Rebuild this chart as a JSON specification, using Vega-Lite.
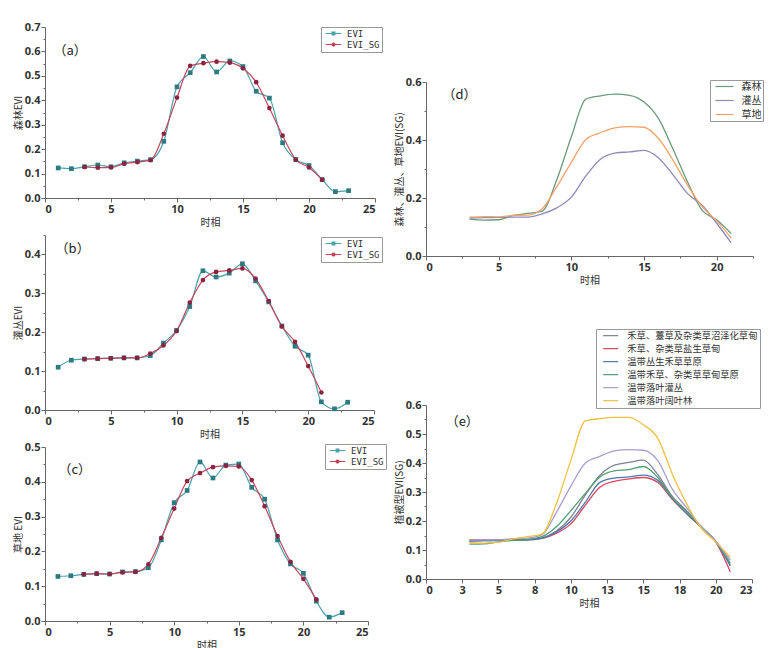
{
  "$schema": "https://vega.github.io/schema/vega-lite/v6.json",
  "padding": {"left": 13, "top": 21, "right": 2, "bottom": 2},
  "background": "white",
  "config": {
    "view": {"stroke": null},
    "font": "Noto Sans CJK SC",
    "axis": {"domainColor": "#666", "tickColor": "#666", "labelColor": "#333", "labelFont": "Open Sans", "labelFontWeight": "bold", "labelFontSize": 11, "titleFont": "Noto Sans CJK SC", "titleFontSize": 10, "titleFontWeight": "normal", "titleColor": "#333", "grid": false, "labelPadding": 1, "titlePadding": 3, "labelOverlap": false},
    "axisY": {"titlePadding": 1},
    "legend": {"titleFontSize": 0}
  },
  "datasets": {
    "a": [
      {"t":1,"v":0.123,"s":"EVI"},{"t":2,"v":0.12,"s":"EVI"},{"t":3,"v":0.128,"s":"EVI"},{"t":4,"v":0.135,"s":"EVI"},{"t":5,"v":0.128,"s":"EVI"},{"t":6,"v":0.144,"s":"EVI"},{"t":7,"v":0.151,"s":"EVI"},{"t":8,"v":0.157,"s":"EVI"},{"t":9,"v":0.232,"s":"EVI"},{"t":10,"v":0.455,"s":"EVI"},{"t":11,"v":0.513,"s":"EVI"},{"t":12,"v":0.579,"s":"EVI"},{"t":13,"v":0.516,"s":"EVI"},{"t":14,"v":0.561,"s":"EVI"},{"t":15,"v":0.538,"s":"EVI"},{"t":16,"v":0.437,"s":"EVI"},{"t":17,"v":0.409,"s":"EVI"},{"t":18,"v":0.226,"s":"EVI"},{"t":19,"v":0.157,"s":"EVI"},{"t":20,"v":0.133,"s":"EVI"},{"t":21,"v":0.075,"s":"EVI"},{"t":22,"v":0.026,"s":"EVI"},{"t":23,"v":0.03,"s":"EVI"},
      {"t":3,"v":0.127,"s":"EVI_SG"},{"t":4,"v":0.124,"s":"EVI_SG"},{"t":5,"v":0.125,"s":"EVI_SG"},{"t":6,"v":0.14,"s":"EVI_SG"},{"t":7,"v":0.147,"s":"EVI_SG"},{"t":8,"v":0.155,"s":"EVI_SG"},{"t":9,"v":0.263,"s":"EVI_SG"},{"t":10,"v":0.411,"s":"EVI_SG"},{"t":11,"v":0.541,"s":"EVI_SG"},{"t":12,"v":0.552,"s":"EVI_SG"},{"t":13,"v":0.558,"s":"EVI_SG"},{"t":14,"v":0.554,"s":"EVI_SG"},{"t":15,"v":0.531,"s":"EVI_SG"},{"t":16,"v":0.474,"s":"EVI_SG"},{"t":17,"v":0.368,"s":"EVI_SG"},{"t":18,"v":0.255,"s":"EVI_SG"},{"t":19,"v":0.157,"s":"EVI_SG"},{"t":20,"v":0.125,"s":"EVI_SG"},{"t":21,"v":0.075,"s":"EVI_SG"}
    ],
    "b": [
      {"t":1,"v":0.110,"s":"EVI"},{"t":2,"v":0.128,"s":"EVI"},{"t":3,"v":0.131,"s":"EVI"},{"t":4,"v":0.132,"s":"EVI"},{"t":5,"v":0.133,"s":"EVI"},{"t":6,"v":0.134,"s":"EVI"},{"t":7,"v":0.134,"s":"EVI"},{"t":8,"v":0.140,"s":"EVI"},{"t":9,"v":0.172,"s":"EVI"},{"t":10,"v":0.205,"s":"EVI"},{"t":11,"v":0.266,"s":"EVI"},{"t":12,"v":0.358,"s":"EVI"},{"t":13,"v":0.342,"s":"EVI"},{"t":14,"v":0.352,"s":"EVI"},{"t":15,"v":0.376,"s":"EVI"},{"t":16,"v":0.332,"s":"EVI"},{"t":17,"v":0.278,"s":"EVI"},{"t":18,"v":0.216,"s":"EVI"},{"t":19,"v":0.164,"s":"EVI"},{"t":20,"v":0.141,"s":"EVI"},{"t":21,"v":0.021,"s":"EVI"},{"t":22,"v":0.003,"s":"EVI"},{"t":23,"v":0.02,"s":"EVI"},
      {"t":3,"v":0.131,"s":"EVI_SG"},{"t":4,"v":0.132,"s":"EVI_SG"},{"t":5,"v":0.133,"s":"EVI_SG"},{"t":6,"v":0.134,"s":"EVI_SG"},{"t":7,"v":0.134,"s":"EVI_SG"},{"t":8,"v":0.145,"s":"EVI_SG"},{"t":9,"v":0.166,"s":"EVI_SG"},{"t":10,"v":0.203,"s":"EVI_SG"},{"t":11,"v":0.276,"s":"EVI_SG"},{"t":12,"v":0.334,"s":"EVI_SG"},{"t":13,"v":0.355,"s":"EVI_SG"},{"t":14,"v":0.359,"s":"EVI_SG"},{"t":15,"v":0.364,"s":"EVI_SG"},{"t":16,"v":0.338,"s":"EVI_SG"},{"t":17,"v":0.280,"s":"EVI_SG"},{"t":18,"v":0.215,"s":"EVI_SG"},{"t":19,"v":0.175,"s":"EVI_SG"},{"t":20,"v":0.113,"s":"EVI_SG"},{"t":21,"v":0.045,"s":"EVI_SG"}
    ],
    "c": [
      {"t":1,"v":0.128,"s":"EVI"},{"t":2,"v":0.130,"s":"EVI"},{"t":3,"v":0.134,"s":"EVI"},{"t":4,"v":0.136,"s":"EVI"},{"t":5,"v":0.135,"s":"EVI"},{"t":6,"v":0.141,"s":"EVI"},{"t":7,"v":0.142,"s":"EVI"},{"t":8,"v":0.153,"s":"EVI"},{"t":9,"v":0.233,"s":"EVI"},{"t":10,"v":0.340,"s":"EVI"},{"t":11,"v":0.375,"s":"EVI"},{"t":12,"v":0.457,"s":"EVI"},{"t":13,"v":0.411,"s":"EVI"},{"t":14,"v":0.448,"s":"EVI"},{"t":15,"v":0.451,"s":"EVI"},{"t":16,"v":0.384,"s":"EVI"},{"t":17,"v":0.350,"s":"EVI"},{"t":18,"v":0.233,"s":"EVI"},{"t":19,"v":0.164,"s":"EVI"},{"t":20,"v":0.137,"s":"EVI"},{"t":21,"v":0.057,"s":"EVI"},{"t":22,"v":0.011,"s":"EVI"},{"t":23,"v":0.024,"s":"EVI"},
      {"t":3,"v":0.134,"s":"EVI_SG"},{"t":4,"v":0.136,"s":"EVI_SG"},{"t":5,"v":0.135,"s":"EVI_SG"},{"t":6,"v":0.140,"s":"EVI_SG"},{"t":7,"v":0.141,"s":"EVI_SG"},{"t":8,"v":0.163,"s":"EVI_SG"},{"t":9,"v":0.239,"s":"EVI_SG"},{"t":10,"v":0.323,"s":"EVI_SG"},{"t":11,"v":0.402,"s":"EVI_SG"},{"t":12,"v":0.425,"s":"EVI_SG"},{"t":13,"v":0.442,"s":"EVI_SG"},{"t":14,"v":0.446,"s":"EVI_SG"},{"t":15,"v":0.444,"s":"EVI_SG"},{"t":16,"v":0.405,"s":"EVI_SG"},{"t":17,"v":0.330,"s":"EVI_SG"},{"t":18,"v":0.244,"s":"EVI_SG"},{"t":19,"v":0.170,"s":"EVI_SG"},{"t":20,"v":0.121,"s":"EVI_SG"},{"t":21,"v":0.062,"s":"EVI_SG"}
    ],
    "d": [
      {"t":3,"v":0.127,"s":"森林"},{"t":4,"v":0.124,"s":"森林"},{"t":5,"v":0.125,"s":"森林"},{"t":6,"v":0.14,"s":"森林"},{"t":7,"v":0.147,"s":"森林"},{"t":8,"v":0.155,"s":"森林"},{"t":9,"v":0.263,"s":"森林"},{"t":10,"v":0.411,"s":"森林"},{"t":11,"v":0.541,"s":"森林"},{"t":12,"v":0.552,"s":"森林"},{"t":13,"v":0.558,"s":"森林"},{"t":14,"v":0.554,"s":"森林"},{"t":15,"v":0.531,"s":"森林"},{"t":16,"v":0.474,"s":"森林"},{"t":17,"v":0.368,"s":"森林"},{"t":18,"v":0.255,"s":"森林"},{"t":19,"v":0.157,"s":"森林"},{"t":20,"v":0.125,"s":"森林"},{"t":21,"v":0.077,"s":"森林"},
      {"t":3,"v":0.131,"s":"灌丛"},{"t":4,"v":0.132,"s":"灌丛"},{"t":5,"v":0.133,"s":"灌丛"},{"t":6,"v":0.134,"s":"灌丛"},{"t":7,"v":0.134,"s":"灌丛"},{"t":8,"v":0.145,"s":"灌丛"},{"t":9,"v":0.166,"s":"灌丛"},{"t":10,"v":0.203,"s":"灌丛"},{"t":11,"v":0.276,"s":"灌丛"},{"t":12,"v":0.334,"s":"灌丛"},{"t":13,"v":0.355,"s":"灌丛"},{"t":14,"v":0.359,"s":"灌丛"},{"t":15,"v":0.364,"s":"灌丛"},{"t":16,"v":0.338,"s":"灌丛"},{"t":17,"v":0.280,"s":"灌丛"},{"t":18,"v":0.215,"s":"灌丛"},{"t":19,"v":0.175,"s":"灌丛"},{"t":20,"v":0.113,"s":"灌丛"},{"t":21,"v":0.045,"s":"灌丛"},
      {"t":3,"v":0.134,"s":"草地"},{"t":4,"v":0.136,"s":"草地"},{"t":5,"v":0.135,"s":"草地"},{"t":6,"v":0.140,"s":"草地"},{"t":7,"v":0.141,"s":"草地"},{"t":8,"v":0.163,"s":"草地"},{"t":9,"v":0.239,"s":"草地"},{"t":10,"v":0.323,"s":"草地"},{"t":11,"v":0.402,"s":"草地"},{"t":12,"v":0.425,"s":"草地"},{"t":13,"v":0.442,"s":"草地"},{"t":14,"v":0.446,"s":"草地"},{"t":15,"v":0.444,"s":"草地"},{"t":16,"v":0.405,"s":"草地"},{"t":17,"v":0.330,"s":"草地"},{"t":18,"v":0.244,"s":"草地"},{"t":19,"v":0.170,"s":"草地"},{"t":20,"v":0.121,"s":"草地"},{"t":21,"v":0.062,"s":"草地"}
    ],
    "e": [
      {"t":3,"v":0.131,"s":"禾草、薹草及杂类草沼泽化草甸"},{"t":4,"v":0.132,"s":"禾草、薹草及杂类草沼泽化草甸"},{"t":5,"v":0.133,"s":"禾草、薹草及杂类草沼泽化草甸"},{"t":6,"v":0.134,"s":"禾草、薹草及杂类草沼泽化草甸"},{"t":7,"v":0.136,"s":"禾草、薹草及杂类草沼泽化草甸"},{"t":8,"v":0.142,"s":"禾草、薹草及杂类草沼泽化草甸"},{"t":9,"v":0.165,"s":"禾草、薹草及杂类草沼泽化草甸"},{"t":10,"v":0.213,"s":"禾草、薹草及杂类草沼泽化草甸"},{"t":11,"v":0.29,"s":"禾草、薹草及杂类草沼泽化草甸"},{"t":12,"v":0.358,"s":"禾草、薹草及杂类草沼泽化草甸"},{"t":13,"v":0.393,"s":"禾草、薹草及杂类草沼泽化草甸"},{"t":14,"v":0.402,"s":"禾草、薹草及杂类草沼泽化草甸"},{"t":15,"v":0.41,"s":"禾草、薹草及杂类草沼泽化草甸"},{"t":16,"v":0.36,"s":"禾草、薹草及杂类草沼泽化草甸"},{"t":17,"v":0.285,"s":"禾草、薹草及杂类草沼泽化草甸"},{"t":18,"v":0.235,"s":"禾草、薹草及杂类草沼泽化草甸"},{"t":19,"v":0.18,"s":"禾草、薹草及杂类草沼泽化草甸"},{"t":20,"v":0.13,"s":"禾草、薹草及杂类草沼泽化草甸"},{"t":21,"v":0.05,"s":"禾草、薹草及杂类草沼泽化草甸"},
      {"t":3,"v":0.135,"s":"禾草、杂类草盐生草甸"},{"t":4,"v":0.135,"s":"禾草、杂类草盐生草甸"},{"t":5,"v":0.135,"s":"禾草、杂类草盐生草甸"},{"t":6,"v":0.135,"s":"禾草、杂类草盐生草甸"},{"t":7,"v":0.136,"s":"禾草、杂类草盐生草甸"},{"t":8,"v":0.14,"s":"禾草、杂类草盐生草甸"},{"t":9,"v":0.158,"s":"禾草、杂类草盐生草甸"},{"t":10,"v":0.19,"s":"禾草、杂类草盐生草甸"},{"t":11,"v":0.255,"s":"禾草、杂类草盐生草甸"},{"t":12,"v":0.316,"s":"禾草、杂类草盐生草甸"},{"t":13,"v":0.337,"s":"禾草、杂类草盐生草甸"},{"t":14,"v":0.345,"s":"禾草、杂类草盐生草甸"},{"t":15,"v":0.35,"s":"禾草、杂类草盐生草甸"},{"t":16,"v":0.333,"s":"禾草、杂类草盐生草甸"},{"t":17,"v":0.275,"s":"禾草、杂类草盐生草甸"},{"t":18,"v":0.225,"s":"禾草、杂类草盐生草甸"},{"t":19,"v":0.178,"s":"禾草、杂类草盐生草甸"},{"t":20,"v":0.128,"s":"禾草、杂类草盐生草甸"},{"t":21,"v":0.025,"s":"禾草、杂类草盐生草甸"},
      {"t":3,"v":0.131,"s":"温带丛生禾草草原"},{"t":4,"v":0.132,"s":"温带丛生禾草草原"},{"t":5,"v":0.133,"s":"温带丛生禾草草原"},{"t":6,"v":0.134,"s":"温带丛生禾草草原"},{"t":7,"v":0.134,"s":"温带丛生禾草草原"},{"t":8,"v":0.14,"s":"温带丛生禾草草原"},{"t":9,"v":0.162,"s":"温带丛生禾草草原"},{"t":10,"v":0.2,"s":"温带丛生禾草草原"},{"t":11,"v":0.265,"s":"温带丛生禾草草原"},{"t":12,"v":0.333,"s":"温带丛生禾草草原"},{"t":13,"v":0.348,"s":"温带丛生禾草草原"},{"t":14,"v":0.352,"s":"温带丛生禾草草原"},{"t":15,"v":0.358,"s":"温带丛生禾草草原"},{"t":16,"v":0.34,"s":"温带丛生禾草草原"},{"t":17,"v":0.278,"s":"温带丛生禾草草原"},{"t":18,"v":0.225,"s":"温带丛生禾草草原"},{"t":19,"v":0.178,"s":"温带丛生禾草草原"},{"t":20,"v":0.128,"s":"温带丛生禾草草原"},{"t":21,"v":0.045,"s":"温带丛生禾草草原"},
      {"t":3,"v":0.12,"s":"温带禾草、杂类草草甸草原"},{"t":4,"v":0.121,"s":"温带禾草、杂类草草甸草原"},{"t":5,"v":0.128,"s":"温带禾草、杂类草草甸草原"},{"t":6,"v":0.133,"s":"温带禾草、杂类草草甸草原"},{"t":7,"v":0.137,"s":"温带禾草、杂类草草甸草原"},{"t":8,"v":0.146,"s":"温带禾草、杂类草草甸草原"},{"t":9,"v":0.18,"s":"温带禾草、杂类草草甸草原"},{"t":10,"v":0.236,"s":"温带禾草、杂类草草甸草原"},{"t":11,"v":0.295,"s":"温带禾草、杂类草草甸草原"},{"t":12,"v":0.352,"s":"温带禾草、杂类草草甸草原"},{"t":13,"v":0.373,"s":"温带禾草、杂类草草甸草原"},{"t":14,"v":0.377,"s":"温带禾草、杂类草草甸草原"},{"t":15,"v":0.388,"s":"温带禾草、杂类草草甸草原"},{"t":16,"v":0.35,"s":"温带禾草、杂类草草甸草原"},{"t":17,"v":0.28,"s":"温带禾草、杂类草草甸草原"},{"t":18,"v":0.232,"s":"温带禾草、杂类草草甸草原"},{"t":19,"v":0.18,"s":"温带禾草、杂类草草甸草原"},{"t":20,"v":0.13,"s":"温带禾草、杂类草草甸草原"},{"t":21,"v":0.055,"s":"温带禾草、杂类草草甸草原"},
      {"t":3,"v":0.134,"s":"温带落叶灌丛"},{"t":4,"v":0.135,"s":"温带落叶灌丛"},{"t":5,"v":0.135,"s":"温带落叶灌丛"},{"t":6,"v":0.139,"s":"温带落叶灌丛"},{"t":7,"v":0.141,"s":"温带落叶灌丛"},{"t":8,"v":0.152,"s":"温带落叶灌丛"},{"t":9,"v":0.23,"s":"温带落叶灌丛"},{"t":10,"v":0.32,"s":"温带落叶灌丛"},{"t":11,"v":0.40,"s":"温带落叶灌丛"},{"t":12,"v":0.423,"s":"温带落叶灌丛"},{"t":13,"v":0.442,"s":"温带落叶灌丛"},{"t":14,"v":0.446,"s":"温带落叶灌丛"},{"t":15,"v":0.444,"s":"温带落叶灌丛"},{"t":16,"v":0.408,"s":"温带落叶灌丛"},{"t":17,"v":0.31,"s":"温带落叶灌丛"},{"t":18,"v":0.245,"s":"温带落叶灌丛"},{"t":19,"v":0.18,"s":"温带落叶灌丛"},{"t":20,"v":0.13,"s":"温带落叶灌丛"},{"t":21,"v":0.065,"s":"温带落叶灌丛"},
      {"t":3,"v":0.125,"s":"温带落叶阔叶林"},{"t":4,"v":0.124,"s":"温带落叶阔叶林"},{"t":5,"v":0.127,"s":"温带落叶阔叶林"},{"t":6,"v":0.138,"s":"温带落叶阔叶林"},{"t":7,"v":0.146,"s":"温带落叶阔叶林"},{"t":8,"v":0.155,"s":"温带落叶阔叶林"},{"t":9,"v":0.26,"s":"温带落叶阔叶林"},{"t":10,"v":0.41,"s":"温带落叶阔叶林"},{"t":11,"v":0.545,"s":"温带落叶阔叶林"},{"t":12,"v":0.553,"s":"温带落叶阔叶林"},{"t":13,"v":0.557,"s":"温带落叶阔叶林"},{"t":14,"v":0.557,"s":"温带落叶阔叶林"},{"t":15,"v":0.532,"s":"温带落叶阔叶林"},{"t":16,"v":0.485,"s":"温带落叶阔叶林"},{"t":17,"v":0.362,"s":"温带落叶阔叶林"},{"t":18,"v":0.258,"s":"温带落叶阔叶林"},{"t":19,"v":0.175,"s":"温带落叶阔叶林"},{"t":20,"v":0.128,"s":"温带落叶阔叶林"},{"t":21,"v":0.075,"s":"温带落叶阔叶林"}
    ]
  },
  "spacing": 7,
  "resolve": {"scale": {"color": "independent"}, "legend": {"color": "independent"}},
  "hconcat": [
    {
      "vconcat": [
        {
          "width": 330, "height": 171,
          "layer": [
            {"data": {"name": "a"}, "mark": {"type": "line", "interpolate": "monotone", "strokeWidth": 1.2},
             "encoding": {
               "x": {"field": "t", "type": "quantitative", "scale": {"domain": [0, 25], "nice": false}, "axis": {"title": "时相", "tickCount": 60, "format": "d", "values": [0,2.5,5,7.5,10,12.5,15,17.5,20,22.5,25], "labelExpr": "datum.value % 5 == 0 ? datum.label : ''", "tickSize": {"condition": {"test": "datum.value % 5 == 0", "value": 4}, "value": 2}}},
               "y": {"field": "v", "type": "quantitative", "scale": {"domain": [0, 0.7], "nice": false}, "axis": {"title": "森林EVI", "tickCount": 60, "values": [0,0.05,0.1,0.15,0.2,0.25,0.3,0.35,0.4,0.45,0.5,0.55,0.6,0.65,0.7], "format": ".1f", "labelExpr": "abs(datum.value*10-round(datum.value*10))<0.001 ? datum.label : ''", "tickSize": {"condition": {"test": "abs(datum.value*10-round(datum.value*10))<0.001", "value": 4}, "value": 2}}},
               "color": {"field": "s", "type": "nominal", "scale": {"domain": ["EVI", "EVI_SG"], "range": ["#4aa3ad", "#c8455a"]},
                 "legend": {"orient": "none", "legendX": 276, "legendY": 0, "title": null, "strokeColor": "#999", "fillColor": "white", "padding": 2, "rowPadding": 1, "labelFont": "DejaVu Sans Mono", "labelFontSize": 9, "labelColor": "#333", "symbolSize": 36, "symbolStrokeWidth": 1.2, "symbolOffset": 6, "labelOffset": 9,
                   "encode": {"symbols": {"update": {"shape": {"signal": "datum.value === 'EVI' ? 'M-2.6,0H2.6M-0.45,-0.45H0.45V0.45H-0.45Z' : 'M-2.6,0H2.6M0.5,0A0.5,0.5,0,1,1,-0.5,0A0.5,0.5,0,1,1,0.5,0Z'"}, "fill": {"signal": "datum.value === 'EVI' ? '#2c7a82' : '#8c2340'"}, "fillOpacity": {"value": 1}}}}}}
             }},
            {"data": {"name": "a"}, "transform": [{"filter": "datum.s === 'EVI'"}], "mark": {"type": "point", "shape": "square", "filled": true, "opacity": 1, "size": 22, "color": "#2c7a82"},
             "encoding": {"x": {"field": "t", "type": "quantitative"}, "y": {"field": "v", "type": "quantitative"}}},
            {"data": {"name": "a"}, "transform": [{"filter": "datum.s === 'EVI_SG'"}], "mark": {"type": "point", "shape": "circle", "filled": true, "opacity": 1, "size": 22, "color": "#8c2340"},
             "encoding": {"x": {"field": "t", "type": "quantitative"}, "y": {"field": "v", "type": "quantitative"}}},
            {"data": {"values": [{"t": 1.9, "v": 0.6, "label": "（a）"}]}, "mark": {"type": "text", "fontSize": 13, "font": "Noto Sans CJK SC", "color": "#222"},
             "encoding": {"x": {"field": "t", "type": "quantitative"}, "y": {"field": "v", "type": "quantitative"}, "text": {"field": "label"}}}
          ]
        },
        {
          "width": 329, "height": 175,
          "layer": [
            {"data": {"name": "b"}, "mark": {"type": "line", "interpolate": "monotone", "strokeWidth": 1.2},
             "encoding": {
               "x": {"field": "t", "type": "quantitative", "scale": {"domain": [0, 25], "nice": false}, "axis": {"title": "时相", "tickCount": 60, "format": "d", "values": [0,2.5,5,7.5,10,12.5,15,17.5,20,22.5,25], "labelExpr": "datum.value % 5 == 0 ? datum.label : ''", "tickSize": {"condition": {"test": "datum.value % 5 == 0", "value": 4}, "value": 2}}},
               "y": {"field": "v", "type": "quantitative", "scale": {"domain": [0, 0.45], "nice": false}, "axis": {"title": "灌丛EVI", "tickCount": 60, "values": [0,0.05,0.1,0.15,0.2,0.25,0.3,0.35,0.4,0.45], "format": ".1f", "labelExpr": "abs(datum.value*10-round(datum.value*10))<0.001 ? datum.label : ''", "tickSize": {"condition": {"test": "abs(datum.value*10-round(datum.value*10))<0.001", "value": 4}, "value": 2}}},
               "color": {"field": "s", "type": "nominal", "scale": {"domain": ["EVI", "EVI_SG"], "range": ["#4aa3ad", "#c8455a"]},
                 "legend": {"orient": "none", "legendX": 276, "legendY": 2, "title": null, "strokeColor": "#999", "fillColor": "white", "padding": 2, "rowPadding": 1, "labelFont": "DejaVu Sans Mono", "labelFontSize": 9, "labelColor": "#333", "symbolSize": 36, "symbolStrokeWidth": 1.2, "symbolOffset": 6, "labelOffset": 9,
                   "encode": {"symbols": {"update": {"shape": {"signal": "datum.value === 'EVI' ? 'M-2.6,0H2.6M-0.45,-0.45H0.45V0.45H-0.45Z' : 'M-2.6,0H2.6M0.5,0A0.5,0.5,0,1,1,-0.5,0A0.5,0.5,0,1,1,0.5,0Z'"}, "fill": {"signal": "datum.value === 'EVI' ? '#2c7a82' : '#8c2340'"}, "fillOpacity": {"value": 1}}}}}}
             }},
            {"data": {"name": "b"}, "transform": [{"filter": "datum.s === 'EVI'"}], "mark": {"type": "point", "shape": "square", "filled": true, "opacity": 1, "size": 22, "color": "#2c7a82"},
             "encoding": {"x": {"field": "t", "type": "quantitative"}, "y": {"field": "v", "type": "quantitative"}}},
            {"data": {"name": "b"}, "transform": [{"filter": "datum.s === 'EVI_SG'"}], "mark": {"type": "point", "shape": "circle", "filled": true, "opacity": 1, "size": 22, "color": "#8c2340"},
             "encoding": {"x": {"field": "t", "type": "quantitative"}, "y": {"field": "v", "type": "quantitative"}}},
            {"data": {"values": [{"t": 2.1, "v": 0.415, "label": "（b）"}]}, "mark": {"type": "text", "fontSize": 13, "font": "Noto Sans CJK SC", "color": "#222"},
             "encoding": {"x": {"field": "t", "type": "quantitative"}, "y": {"field": "v", "type": "quantitative"}, "text": {"field": "label"}}}
          ]
        },
        {
          "width": 323, "height": 174,
          "layer": [
            {"data": {"name": "c"}, "mark": {"type": "line", "interpolate": "monotone", "strokeWidth": 1.2},
             "encoding": {
               "x": {"field": "t", "type": "quantitative", "scale": {"domain": [0, 25], "nice": false}, "axis": {"title": "时相", "tickCount": 60, "format": "d", "values": [0,2.5,5,7.5,10,12.5,15,17.5,20,22.5,25], "labelExpr": "datum.value % 5 == 0 ? datum.label : ''", "tickSize": {"condition": {"test": "datum.value % 5 == 0", "value": 4}, "value": 2}}},
               "y": {"field": "v", "type": "quantitative", "scale": {"domain": [0, 0.5], "nice": false}, "axis": {"title": "草地 EVI", "tickCount": 60, "values": [0,0.05,0.1,0.15,0.2,0.25,0.3,0.35,0.4,0.45,0.5], "format": ".1f", "labelExpr": "abs(datum.value*10-round(datum.value*10))<0.001 ? datum.label : ''", "tickSize": {"condition": {"test": "abs(datum.value*10-round(datum.value*10))<0.001", "value": 4}, "value": 2}}},
               "color": {"field": "s", "type": "nominal", "scale": {"domain": ["EVI", "EVI_SG"], "range": ["#4aa3ad", "#c8455a"]},
                 "legend": {"orient": "none", "legendX": 280, "legendY": -3, "title": null, "strokeColor": "#999", "fillColor": "white", "padding": 2, "rowPadding": 1, "labelFont": "DejaVu Sans Mono", "labelFontSize": 9, "labelColor": "#333", "symbolSize": 36, "symbolStrokeWidth": 1.2, "symbolOffset": 6, "labelOffset": 9,
                   "encode": {"symbols": {"update": {"shape": {"signal": "datum.value === 'EVI' ? 'M-2.6,0H2.6M-0.45,-0.45H0.45V0.45H-0.45Z' : 'M-2.6,0H2.6M0.5,0A0.5,0.5,0,1,1,-0.5,0A0.5,0.5,0,1,1,0.5,0Z'"}, "fill": {"signal": "datum.value === 'EVI' ? '#2c7a82' : '#8c2340'"}, "fillOpacity": {"value": 1}}}}}}
             }},
            {"data": {"name": "c"}, "transform": [{"filter": "datum.s === 'EVI'"}], "mark": {"type": "point", "shape": "square", "filled": true, "opacity": 1, "size": 22, "color": "#2c7a82"},
             "encoding": {"x": {"field": "t", "type": "quantitative"}, "y": {"field": "v", "type": "quantitative"}}},
            {"data": {"name": "c"}, "transform": [{"filter": "datum.s === 'EVI_SG'"}], "mark": {"type": "point", "shape": "circle", "filled": true, "opacity": 1, "size": 22, "color": "#8c2340"},
             "encoding": {"x": {"field": "t", "type": "quantitative"}, "y": {"field": "v", "type": "quantitative"}}},
            {"data": {"values": [{"t": 2.3, "v": 0.434, "label": "（c）"}]}, "mark": {"type": "text", "fontSize": 13, "font": "Noto Sans CJK SC", "color": "#222"},
             "encoding": {"x": {"field": "t", "type": "quantitative"}, "y": {"field": "v", "type": "quantitative"}, "text": {"field": "label"}}}
          ]
        }
      ],
      "spacing": 37,
      "bounds": "flush",
      "resolve": {"scale": {"color": "independent"}, "legend": {"color": "independent"}}
    },
    {
      "vconcat": [
        {"width": 10, "height": 2, "data": {"values": [{"k": 1}]}, "mark": {"type": "text", "text": ""}, "encoding": {}},
        {
          "width": 327, "height": 174,
          "layer": [
            {"data": {"name": "d"}, "mark": {"type": "line", "interpolate": "monotone", "strokeWidth": 1.3},
             "encoding": {
               "x": {"field": "t", "type": "quantitative", "scale": {"domain": [0, 22.5], "nice": false}, "axis": {"title": "时相", "tickCount": 60, "format": "d", "values": [0,2.5,5,7.5,10,12.5,15,17.5,20,22.5], "labelExpr": "datum.value % 5 == 0 ? datum.label : ''", "tickSize": {"condition": {"test": "datum.value % 5 == 0", "value": 4}, "value": 2}}},
               "y": {"field": "v", "type": "quantitative", "scale": {"domain": [0, 0.6], "nice": false}, "axis": {"title": "森林、灌丛、草地EVI(SG)", "tickCount": 60, "values": [0,0.1,0.2,0.3,0.4,0.5,0.6], "format": ".1f", "labelExpr": "abs(datum.value*5-round(datum.value*5))<0.001 ? datum.label : ''", "tickSize": {"condition": {"test": "abs(datum.value*5-round(datum.value*5))<0.001", "value": 4}, "value": 2}}},
               "color": {"field": "s", "type": "nominal", "scale": {"domain": ["森林", "灌丛", "草地"], "range": ["#6b9a7c", "#8e88bb", "#f2a36c"]},
                 "legend": {"orient": "none", "legendX": 284, "legendY": -2, "title": null, "strokeColor": "#999", "fillColor": "white", "padding": 1.5, "rowPadding": 4, "labelFont": "Noto Sans CJK SC", "labelFontSize": 10, "labelColor": "#333", "symbolType": "M-3,0H3", "symbolSize": 36, "symbolStrokeWidth": 1.2, "symbolOffset": 8, "labelOffset": 12}}
             }},
            {"data": {"values": [{"t": 2.3, "v": 0.555, "label": "（d）"}]}, "mark": {"type": "text", "fontSize": 13, "font": "Noto Sans CJK SC", "color": "#222"},
             "encoding": {"x": {"field": "t", "type": "quantitative"}, "y": {"field": "v", "type": "quantitative"}, "text": {"field": "label"}}}
          ]
        },
        {
          "width": 326, "height": 174,
          "layer": [
            {"data": {"name": "e"}, "mark": {"type": "line", "interpolate": "monotone", "strokeWidth": 1.3},
             "encoding": {
               "x": {"field": "t", "type": "quantitative", "scale": {"domain": [0, 22.5], "nice": false}, "axis": {"title": "时相", "tickCount": 60, "values": [0,2.5,5,7.5,10,12.5,15,17.5,20,22.5], "labelExpr": "'' + round(datum.value)", "tickSize": 4}},
               "y": {"field": "v", "type": "quantitative", "scale": {"domain": [0, 0.6], "nice": false}, "axis": {"title": "植被型EVI(SG)", "tickCount": 60, "values": [0,0.05,0.1,0.15,0.2,0.25,0.3,0.35,0.4,0.45,0.5,0.55,0.6], "format": ".1f", "labelExpr": "abs(datum.value*10-round(datum.value*10))<0.001 ? datum.label : ''", "tickSize": {"condition": {"test": "abs(datum.value*10-round(datum.value*10))<0.001", "value": 4}, "value": 2}}},
               "color": {"field": "s", "type": "nominal", "scale": {"domain": ["禾草、薹草及杂类草沼泽化草甸", "禾草、杂类草盐生草甸", "温带丛生禾草草原", "温带禾草、杂类草草甸草原", "温带落叶灌丛", "温带落叶阔叶林"], "range": ["#7d8194", "#d8465e", "#4f77aa", "#4fa070", "#a99dd0", "#ecc23f"]},
                 "legend": {"orient": "none", "legendX": 170, "legendY": -76, "title": null, "strokeColor": "#999", "fillColor": "white", "padding": 2, "rowPadding": 3, "labelFont": "Noto Sans CJK SC", "labelFontSize": 9.3, "labelColor": "#333", "labelLimit": 300, "symbolType": "M-2.5,0H2.5", "symbolSize": 36, "symbolStrokeWidth": 1.2, "symbolOffset": 8, "labelOffset": 12}}
             }},
            {"data": {"values": [{"t": 2.5, "v": 0.541, "label": "（e）"}]}, "mark": {"type": "text", "fontSize": 13, "font": "Noto Sans CJK SC", "color": "#222"},
             "encoding": {"x": {"field": "t", "type": "quantitative"}, "y": {"field": "v", "type": "quantitative"}, "text": {"field": "label"}}}
          ]
        }
      ],
      "spacing": 43,
      "resolve": {"scale": {"color": "independent"}, "legend": {"color": "independent"}}
    }
  ]
}
